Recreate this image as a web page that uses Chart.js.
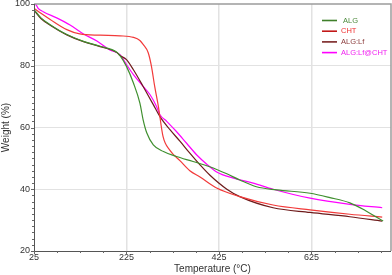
<!DOCTYPE html>
<html>
<head>
<meta charset="utf-8">
<script src="https://cdn.jsdelivr.net/npm/chart.js@4.4.0/dist/chart.umd.min.js"></script>
<style>
  html, body { margin: 0; padding: 0; background: #fff; }
</style>
</head>
<body>
<canvas id="tgaChart" width="392" height="275"></canvas>
<script>
// TGA curves
const seriesNames = ['ALG', 'CHT', 'ALG:Lf', 'ALG:Lf@CHT'];

const algTemp = [25, 40, 60, 96, 132, 168, 204, 211, 225, 240, 254, 261, 269, 283, 305, 333, 369, 405, 442, 470, 506, 550, 622, 665, 708, 744, 780];
const algWeight = [98.2, 95.5, 93.3, 90.1, 87.9, 86.3, 84.4, 83.3, 79.8, 74.4, 67.9, 62.5, 58.2, 54.4, 52.2, 50.6, 49.0, 47.3, 45.0, 43.0, 40.8, 39.8, 38.7, 37.3, 35.6, 32.9, 29.7];

const chtTemp = [25, 40, 60, 96, 124, 168, 211, 240, 254, 261, 272, 279, 286, 294, 304, 319, 341, 362, 384, 420, 470, 542, 622, 708, 778];
const chtWeight = [98.6, 97.0, 95.0, 91.7, 90.3, 89.9, 89.7, 89.2, 88.2, 86.9, 84.2, 79.8, 73.3, 66.8, 57.1, 52.6, 49.2, 46.0, 44.0, 40.4, 37.6, 34.9, 33.3, 31.9, 31.0];

const lfTemp = [25, 40, 60, 96, 132, 168, 204, 211, 225, 240, 261, 283, 297, 319, 341, 362, 384, 405, 442, 470, 542, 622, 708, 778];
const lfWeight = [98.0, 95.3, 93.1, 90.0, 87.8, 86.2, 84.3, 83.3, 82.0, 78.7, 73.3, 67.4, 63.6, 59.3, 55.5, 51.7, 47.9, 44.6, 40.0, 37.6, 34.0, 32.5, 31.1, 29.7];

const lfChtTemp = [28, 31, 34, 45, 74, 103, 132, 161, 189, 211, 225, 240, 261, 276, 290, 297, 312, 333, 355, 377, 398, 420, 456, 499, 542, 622, 708, 778];
const lfChtWeight = [100, 99.4, 98.6, 97.5, 95.5, 93.2, 90.3, 88.0, 85.1, 83.6, 80.4, 77.1, 73.3, 70.6, 66.8, 64.2, 62.0, 58.7, 54.9, 51.1, 48.2, 45.6, 43.6, 42.0, 40.0, 37.1, 35.1, 34.0];

const xTicks = [25, 225, 425, 625];
const yTicks = [20, 40, 60, 80, 100];

const lineColors = ['#3f8f2f', '#f23a3a', '#6e1b1b', '#ff00ff'];
const legendLineColors = ['#3f7f2a', '#c21818', '#7a2424', '#ff00ff'];
const labelColors = ['#4c8a3c', '#f03030', '#8a3a3a', '#f020f0'];

function toPoints(xs, ys) {
  return xs.map((x, i) => ({ x: x, y: ys[i] }));
}

const allSeries = [
  toPoints(algTemp, algWeight),
  toPoints(chtTemp, chtWeight),
  toPoints(lfTemp, lfWeight),
  toPoints(lfChtTemp, lfChtWeight)
];

const FONT = '"Liberation Sans", Arial, sans-serif';

// minor ticks, frame and the in-plot legend
const decorations = {
  id: 'decorations',
  afterDraw(chart) {
    const ctx = chart.ctx;
    const a = chart.chartArea;
    const xs = chart.scales.x;
    const ys = chart.scales.y;
    ctx.save();
    // top/right frame
    ctx.strokeStyle = '#9c9c9c';
    ctx.lineWidth = 1.5;
    ctx.beginPath();
    ctx.moveTo(a.left, a.top);
    ctx.lineTo(a.right, a.top);
    ctx.lineTo(a.right, a.bottom);
    ctx.stroke();
    // axes
    ctx.strokeStyle = '#555';
    ctx.lineWidth = 1;
    ctx.beginPath();
    ctx.moveTo(a.left + 0.5, a.top);
    ctx.lineTo(a.left + 0.5, a.bottom + 0.5);
    ctx.lineTo(a.right, a.bottom + 0.5);
    ctx.stroke();
    // x ticks every 50
    ctx.strokeStyle = '#666';
    for (let t = 25; t <= 790; t += 50) {
      const px = Math.round(xs.getPixelForValue(t)) + 0.5;
      const len = xTicks.includes(t) ? 3 : 2;
      ctx.beginPath();
      ctx.moveTo(px, a.bottom);
      ctx.lineTo(px, a.bottom + len);
      ctx.stroke();
    }
    // y ticks every 2
    for (let w = 20; w <= 100; w += 2) {
      const py = Math.round(ys.getPixelForValue(w)) + 0.5;
      const len = w % 20 === 0 ? 3 : 2;
      ctx.beginPath();
      ctx.moveTo(a.left - len, py);
      ctx.lineTo(a.left, py);
      ctx.stroke();
    }
    // legend
    ctx.font = '7.5px ' + FONT;
    ctx.textBaseline = 'middle';
    ctx.textAlign = 'left';
    seriesNames.forEach((name, i) => {
      const y = 20.5 + i * 10.7;
      ctx.strokeStyle = legendLineColors[i];
      ctx.lineWidth = 1.6;
      ctx.beginPath();
      ctx.moveTo(322, y);
      ctx.lineTo(337, y);
      ctx.stroke();
      ctx.fillStyle = labelColors[i];
      ctx.fillText(name, i === 0 ? 343 : 341, y);
    });
    ctx.restore();
  }
};

new Chart(document.getElementById('tgaChart').getContext('2d'), {
  type: 'line',
  data: {
    datasets: allSeries.map((pts, i) => ({
      label: seriesNames[i],
      data: pts,
      borderColor: lineColors[i],
      borderWidth: 1.2,
      pointRadius: 0,
      fill: false,
      cubicInterpolationMode: 'monotone'
    }))
  },
  options: {
    responsive: false,
    animation: false,
    layout: { padding: { top: 4, right: 1, left: 0, bottom: 0 } },
    plugins: {
      legend: { display: false },
      tooltip: { enabled: false }
    },
    scales: {
      x: {
        type: 'linear',
        min: 25,
        max: 797,
        afterBuildTicks: s => { s.ticks = xTicks.map(v => ({ value: v })); },
        afterFit: s => { s.height = 24; s.paddingLeft = 0; s.paddingRight = 0; },
        grid: {
          drawTicks: false,
          color: c => (c.tick && c.tick.value === 25) ? 'rgba(0,0,0,0)' : '#e2e2e2',
          lineWidth: 1.5
        },
        border: { display: false },
        ticks: {
          padding: 1,
          color: '#333',
          font: { family: FONT, size: 9 },
          maxRotation: 0,
          callback: v => String(v)
        },
        title: {
          display: true,
          text: 'Temperature (°C)',
          color: '#333',
          font: { family: FONT, size: 10 },
          padding: { top: 1, bottom: 0 }
        }
      },
      y: {
        min: 20,
        max: 100,
        afterBuildTicks: s => { s.ticks = yTicks.map(v => ({ value: v })); },
        afterFit: s => { s.width = 34; s.paddingTop = 0; s.paddingBottom = 0; },
        grid: {
          drawTicks: false,
          color: c => (c.tick && (c.tick.value === 20 || c.tick.value === 100)) ? 'rgba(0,0,0,0)' : '#e2e2e2',
          lineWidth: 1
        },
        border: { display: false },
        ticks: {
          padding: 4,
          color: '#333',
          font: { family: FONT, size: 9 },
          callback: v => String(v)
        },
        title: {
          display: true,
          text: 'Weight (%)',
          color: '#333',
          font: { family: FONT, size: 10 },
          padding: { top: 0, bottom: 2 }
        }
      }
    }
  },
  plugins: [decorations]
});
</script>
</body>
</html>
